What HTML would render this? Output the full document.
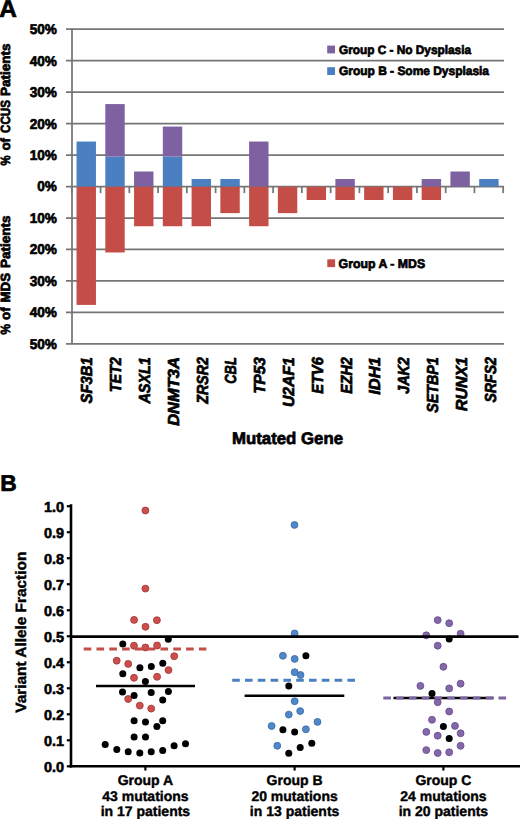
<!DOCTYPE html>
<html><head><meta charset="utf-8"><style>
html,body{margin:0;padding:0;background:#fff;width:520px;height:820px;overflow:hidden}
svg{display:block;text-rendering:geometricPrecision}
.ca{font-family:"Liberation Sans",sans-serif;font-weight:bold;fill:#000}
.sa{stroke:#000;stroke-width:0.7px}
.sb{stroke:#000;stroke-width:0.7px}
.sc{stroke:#000;stroke-width:0.4px}
.sd{stroke:#000;stroke-width:0.6px}
.gi{font-family:"Liberation Sans",sans-serif;font-weight:bold;font-style:italic;fill:#000}
</style></head><body>
<svg width="520" height="820" viewBox="0 0 520 820">
<line x1="66" y1="29.20" x2="504" y2="29.20" stroke="#767676" stroke-width="1.75"/>
<line x1="66" y1="60.67" x2="504" y2="60.67" stroke="#767676" stroke-width="1.75"/>
<line x1="66" y1="92.14" x2="504" y2="92.14" stroke="#767676" stroke-width="1.75"/>
<line x1="66" y1="123.61" x2="504" y2="123.61" stroke="#767676" stroke-width="1.75"/>
<line x1="66" y1="155.08" x2="504" y2="155.08" stroke="#767676" stroke-width="1.75"/>
<line x1="66" y1="186.55" x2="504" y2="186.55" stroke="#767676" stroke-width="1.75"/>
<line x1="66" y1="218.02" x2="504" y2="218.02" stroke="#767676" stroke-width="1.75"/>
<line x1="66" y1="249.49" x2="504" y2="249.49" stroke="#767676" stroke-width="1.75"/>
<line x1="66" y1="280.96" x2="504" y2="280.96" stroke="#767676" stroke-width="1.75"/>
<line x1="66" y1="312.43" x2="504" y2="312.43" stroke="#767676" stroke-width="1.75"/>
<line x1="66" y1="343.90" x2="504" y2="343.90" stroke="#767676" stroke-width="1.75"/>
<line x1="72.0" y1="28.4" x2="72.0" y2="344.6" stroke="#767676" stroke-width="1.75"/>
<line x1="71.80" y1="186.5" x2="71.80" y2="193.10" stroke="#767676" stroke-width="1.75"/>
<line x1="100.56" y1="186.5" x2="100.56" y2="193.10" stroke="#767676" stroke-width="1.75"/>
<line x1="129.32" y1="186.5" x2="129.32" y2="193.10" stroke="#767676" stroke-width="1.75"/>
<line x1="158.08" y1="186.5" x2="158.08" y2="193.10" stroke="#767676" stroke-width="1.75"/>
<line x1="186.84" y1="186.5" x2="186.84" y2="193.10" stroke="#767676" stroke-width="1.75"/>
<line x1="215.60" y1="186.5" x2="215.60" y2="193.10" stroke="#767676" stroke-width="1.75"/>
<line x1="244.36" y1="186.5" x2="244.36" y2="193.10" stroke="#767676" stroke-width="1.75"/>
<line x1="273.12" y1="186.5" x2="273.12" y2="193.10" stroke="#767676" stroke-width="1.75"/>
<line x1="301.88" y1="186.5" x2="301.88" y2="193.10" stroke="#767676" stroke-width="1.75"/>
<line x1="330.64" y1="186.5" x2="330.64" y2="193.10" stroke="#767676" stroke-width="1.75"/>
<line x1="359.40" y1="186.5" x2="359.40" y2="193.10" stroke="#767676" stroke-width="1.75"/>
<line x1="388.16" y1="186.5" x2="388.16" y2="193.10" stroke="#767676" stroke-width="1.75"/>
<line x1="416.92" y1="186.5" x2="416.92" y2="193.10" stroke="#767676" stroke-width="1.75"/>
<line x1="445.68" y1="186.5" x2="445.68" y2="193.10" stroke="#767676" stroke-width="1.75"/>
<line x1="474.44" y1="186.5" x2="474.44" y2="193.10" stroke="#767676" stroke-width="1.75"/>
<line x1="503.20" y1="186.5" x2="503.20" y2="193.10" stroke="#767676" stroke-width="1.75"/>
<rect x="76.55" y="141.54" width="19.4" height="44.96" fill="#4A80C1"/>
<rect x="76.55" y="186.80" width="19.4" height="118.11" fill="#C44D48"/>
<rect x="105.31" y="156.53" width="19.4" height="29.97" fill="#4A80C1"/>
<rect x="105.31" y="104.08" width="19.4" height="52.45" fill="#7D61A1"/>
<rect x="105.31" y="186.80" width="19.4" height="65.66" fill="#C44D48"/>
<rect x="134.07" y="171.51" width="19.4" height="14.99" fill="#7D61A1"/>
<rect x="134.07" y="186.80" width="19.4" height="39.44" fill="#C44D48"/>
<rect x="162.83" y="156.53" width="19.4" height="29.97" fill="#4A80C1"/>
<rect x="162.83" y="126.56" width="19.4" height="29.97" fill="#7D61A1"/>
<rect x="162.83" y="186.80" width="19.4" height="39.44" fill="#C44D48"/>
<rect x="191.59" y="179.01" width="19.4" height="7.49" fill="#4A80C1"/>
<rect x="191.59" y="186.80" width="19.4" height="39.44" fill="#C44D48"/>
<rect x="220.35" y="179.01" width="19.4" height="7.49" fill="#4A80C1"/>
<rect x="220.35" y="186.80" width="19.4" height="26.32" fill="#C44D48"/>
<rect x="249.11" y="141.54" width="19.4" height="44.96" fill="#7D61A1"/>
<rect x="249.11" y="186.80" width="19.4" height="39.44" fill="#C44D48"/>
<rect x="277.87" y="186.80" width="19.4" height="26.32" fill="#C44D48"/>
<rect x="306.63" y="186.80" width="19.4" height="13.21" fill="#C44D48"/>
<rect x="335.39" y="179.01" width="19.4" height="7.49" fill="#7D61A1"/>
<rect x="335.39" y="186.80" width="19.4" height="13.21" fill="#C44D48"/>
<rect x="364.15" y="186.80" width="19.4" height="13.21" fill="#C44D48"/>
<rect x="392.91" y="186.80" width="19.4" height="13.21" fill="#C44D48"/>
<rect x="421.67" y="179.01" width="19.4" height="7.49" fill="#7D61A1"/>
<rect x="421.67" y="186.80" width="19.4" height="13.21" fill="#C44D48"/>
<rect x="450.43" y="171.51" width="19.4" height="14.99" fill="#7D61A1"/>
<rect x="479.19" y="179.01" width="19.4" height="7.49" fill="#4A80C1"/>
<text x="56.9" y="34.10" text-anchor="end" class="ca sa" font-size="14.2" textLength="27.2" lengthAdjust="spacingAndGlyphs">50%</text>
<text x="56.9" y="65.57" text-anchor="end" class="ca sa" font-size="14.2" textLength="27.2" lengthAdjust="spacingAndGlyphs">40%</text>
<text x="56.9" y="97.04" text-anchor="end" class="ca sa" font-size="14.2" textLength="27.2" lengthAdjust="spacingAndGlyphs">30%</text>
<text x="56.9" y="128.51" text-anchor="end" class="ca sa" font-size="14.2" textLength="27.2" lengthAdjust="spacingAndGlyphs">20%</text>
<text x="56.9" y="159.98" text-anchor="end" class="ca sa" font-size="14.2" textLength="27.2" lengthAdjust="spacingAndGlyphs">10%</text>
<text x="56.9" y="191.45" text-anchor="end" class="ca sa" font-size="14.2" textLength="19.6" lengthAdjust="spacingAndGlyphs">0%</text>
<text x="56.9" y="222.92" text-anchor="end" class="ca sa" font-size="14.2" textLength="27.2" lengthAdjust="spacingAndGlyphs">10%</text>
<text x="56.9" y="254.39" text-anchor="end" class="ca sa" font-size="14.2" textLength="27.2" lengthAdjust="spacingAndGlyphs">20%</text>
<text x="56.9" y="285.86" text-anchor="end" class="ca sa" font-size="14.2" textLength="27.2" lengthAdjust="spacingAndGlyphs">30%</text>
<text x="56.9" y="317.33" text-anchor="end" class="ca sa" font-size="14.2" textLength="27.2" lengthAdjust="spacingAndGlyphs">40%</text>
<text x="56.9" y="348.80" text-anchor="end" class="ca sa" font-size="14.2" textLength="27.2" lengthAdjust="spacingAndGlyphs">50%</text>
<rect x="327.2" y="45.6" width="7.8" height="7.8" fill="#7D61A1"/>
<rect x="327.2" y="67.2" width="7.8" height="7.8" fill="#4A80C1"/>
<rect x="327.3" y="259.3" width="7.8" height="7.8" fill="#C44D48"/>
<text x="339" y="53.8" class="ca sa" font-size="12.2" textLength="132" lengthAdjust="spacingAndGlyphs">Group C - No Dysplasia</text>
<text x="339" y="75.3" class="ca sa" font-size="12.2" textLength="150" lengthAdjust="spacingAndGlyphs">Group B - Some Dysplasia</text>
<text x="338.6" y="267.7" class="ca sa" font-size="12.6" textLength="86.5" lengthAdjust="spacingAndGlyphs">Group A - MDS</text>
<text transform="translate(10.4,165.50) rotate(-90)" class="ca sa" font-size="13.4" textLength="10.08" lengthAdjust="spacingAndGlyphs">%</text>
<text transform="translate(10.4,150.50) rotate(-90)" class="ca sa" font-size="13.4" textLength="12.54" lengthAdjust="spacingAndGlyphs">of</text>
<text transform="translate(10.4,133.00) rotate(-90)" class="ca sa" font-size="13.4" textLength="33.04" lengthAdjust="spacingAndGlyphs">CCUS</text>
<text transform="translate(10.4,96.00) rotate(-90)" class="ca sa" font-size="13.4" textLength="52.50" lengthAdjust="spacingAndGlyphs">Patients</text>
<text transform="translate(10.4,334.50) rotate(-90)" class="ca sa" font-size="13.4" textLength="10.57" lengthAdjust="spacingAndGlyphs">%</text>
<text transform="translate(10.4,320.00) rotate(-90)" class="ca sa" font-size="13.4" textLength="12.56" lengthAdjust="spacingAndGlyphs">of</text>
<text transform="translate(10.4,302.50) rotate(-90)" class="ca sa" font-size="13.4" textLength="29.50" lengthAdjust="spacingAndGlyphs">MDS</text>
<text transform="translate(10.4,268.00) rotate(-90)" class="ca sa" font-size="13.4" textLength="52.52" lengthAdjust="spacingAndGlyphs">Patients</text>
<text transform="translate(92.30,357.2) rotate(-90)" text-anchor="end" class="gi sa" font-size="16" textLength="46.2" lengthAdjust="spacingAndGlyphs">SF3B1</text>
<text transform="translate(121.10,357.2) rotate(-90)" text-anchor="end" class="gi sa" font-size="16" textLength="35.0" lengthAdjust="spacingAndGlyphs">TET2</text>
<text transform="translate(149.90,357.2) rotate(-90)" text-anchor="end" class="gi sa" font-size="16" textLength="46.4" lengthAdjust="spacingAndGlyphs">ASXL1</text>
<text transform="translate(178.70,357.2) rotate(-90)" text-anchor="end" class="gi sa" font-size="16" textLength="68.6" lengthAdjust="spacingAndGlyphs">DNMT3A</text>
<text transform="translate(207.50,357.2) rotate(-90)" text-anchor="end" class="gi sa" font-size="16" textLength="46.6" lengthAdjust="spacingAndGlyphs">ZRSR2</text>
<text transform="translate(236.30,357.2) rotate(-90)" text-anchor="end" class="gi sa" font-size="16" textLength="26.5" lengthAdjust="spacingAndGlyphs">CBL</text>
<text transform="translate(265.10,357.2) rotate(-90)" text-anchor="end" class="gi sa" font-size="16" textLength="36.6" lengthAdjust="spacingAndGlyphs">TP53</text>
<text transform="translate(293.90,357.2) rotate(-90)" text-anchor="end" class="gi sa" font-size="16" textLength="49.9" lengthAdjust="spacingAndGlyphs">U2AF1</text>
<text transform="translate(322.70,357.2) rotate(-90)" text-anchor="end" class="gi sa" font-size="16" textLength="36.6" lengthAdjust="spacingAndGlyphs">ETV6</text>
<text transform="translate(351.50,357.2) rotate(-90)" text-anchor="end" class="gi sa" font-size="16" textLength="36.6" lengthAdjust="spacingAndGlyphs">EZH2</text>
<text transform="translate(380.30,357.2) rotate(-90)" text-anchor="end" class="gi sa" font-size="16" textLength="37.6" lengthAdjust="spacingAndGlyphs">IDH1</text>
<text transform="translate(409.10,357.2) rotate(-90)" text-anchor="end" class="gi sa" font-size="16" textLength="36.6" lengthAdjust="spacingAndGlyphs">JAK2</text>
<text transform="translate(437.90,357.2) rotate(-90)" text-anchor="end" class="gi sa" font-size="16" textLength="55.6" lengthAdjust="spacingAndGlyphs">SETBP1</text>
<text transform="translate(466.70,357.2) rotate(-90)" text-anchor="end" class="gi sa" font-size="16" textLength="53.8" lengthAdjust="spacingAndGlyphs">RUNX1</text>
<text transform="translate(495.50,357.2) rotate(-90)" text-anchor="end" class="gi sa" font-size="16" textLength="45.2" lengthAdjust="spacingAndGlyphs">SRFS2</text>
<text x="232" y="444.3" class="ca sa" font-size="16.8" textLength="111" lengthAdjust="spacingAndGlyphs">Mutated Gene</text>
<text x="-0.7" y="17.0" class="ca sb" font-size="24.4">A</text>
<text x="0.3" y="491.4" class="ca sb" font-size="22.8">B</text>
<line x1="66.8" y1="766.30" x2="71" y2="766.30" stroke="#000" stroke-width="2.2"/>
<text x="64.0" y="771.90" text-anchor="end" class="ca sd" font-size="14.4">0.0</text>
<line x1="66.8" y1="740.29" x2="71" y2="740.29" stroke="#000" stroke-width="2.2"/>
<text x="64.0" y="745.89" text-anchor="end" class="ca sd" font-size="14.4">0.1</text>
<line x1="66.8" y1="714.28" x2="71" y2="714.28" stroke="#000" stroke-width="2.2"/>
<text x="64.0" y="719.88" text-anchor="end" class="ca sd" font-size="14.4">0.2</text>
<line x1="66.8" y1="688.27" x2="71" y2="688.27" stroke="#000" stroke-width="2.2"/>
<text x="64.0" y="693.87" text-anchor="end" class="ca sd" font-size="14.4">0.3</text>
<line x1="66.8" y1="662.26" x2="71" y2="662.26" stroke="#000" stroke-width="2.2"/>
<text x="64.0" y="667.86" text-anchor="end" class="ca sd" font-size="14.4">0.4</text>
<line x1="66.8" y1="636.25" x2="71" y2="636.25" stroke="#000" stroke-width="2.2"/>
<text x="64.0" y="641.85" text-anchor="end" class="ca sd" font-size="14.4">0.5</text>
<line x1="66.8" y1="610.24" x2="71" y2="610.24" stroke="#000" stroke-width="2.2"/>
<text x="64.0" y="615.84" text-anchor="end" class="ca sd" font-size="14.4">0.6</text>
<line x1="66.8" y1="584.23" x2="71" y2="584.23" stroke="#000" stroke-width="2.2"/>
<text x="64.0" y="589.83" text-anchor="end" class="ca sd" font-size="14.4">0.7</text>
<line x1="66.8" y1="558.22" x2="71" y2="558.22" stroke="#000" stroke-width="2.2"/>
<text x="64.0" y="563.82" text-anchor="end" class="ca sd" font-size="14.4">0.8</text>
<line x1="66.8" y1="532.21" x2="71" y2="532.21" stroke="#000" stroke-width="2.2"/>
<text x="64.0" y="537.81" text-anchor="end" class="ca sd" font-size="14.4">0.9</text>
<line x1="66.8" y1="506.20" x2="71" y2="506.20" stroke="#000" stroke-width="2.2"/>
<text x="64.0" y="511.80" text-anchor="end" class="ca sd" font-size="14.4">1.0</text>
<line x1="71" y1="504.2" x2="71" y2="767.5" stroke="#000" stroke-width="2.6"/>
<line x1="69.7" y1="766.3" x2="520" y2="766.3" stroke="#000" stroke-width="2.6"/>
<line x1="145.4" y1="766.3" x2="145.4" y2="770.5" stroke="#000" stroke-width="2.2"/>
<line x1="294.6" y1="766.3" x2="294.6" y2="770.5" stroke="#000" stroke-width="2.2"/>
<line x1="443.4" y1="766.3" x2="443.4" y2="770.5" stroke="#000" stroke-width="2.2"/>
<text transform="translate(26.4,712.7) rotate(-90)" class="ca sc" font-size="15" textLength="161" lengthAdjust="spacingAndGlyphs">Variant Allele Fraction</text>
<circle cx="145.4" cy="510.5" r="3.45" fill="#CD4F4C" stroke="#A33A38" stroke-width="0.9"/>
<circle cx="145.4" cy="588.6" r="3.45" fill="#CD4F4C" stroke="#A33A38" stroke-width="0.9"/>
<circle cx="134.1" cy="619.9" r="3.45" fill="#CD4F4C" stroke="#A33A38" stroke-width="0.9"/>
<circle cx="156.9" cy="620.2" r="3.45" fill="#CD4F4C" stroke="#A33A38" stroke-width="0.9"/>
<circle cx="145.5" cy="626.8" r="3.45" fill="#CD4F4C" stroke="#A33A38" stroke-width="0.9"/>
<circle cx="134.0" cy="645.7" r="3.45" fill="#CD4F4C" stroke="#A33A38" stroke-width="0.9"/>
<circle cx="145.4" cy="647.5" r="3.45" fill="#CD4F4C" stroke="#A33A38" stroke-width="0.9"/>
<circle cx="157.1" cy="645.5" r="3.45" fill="#CD4F4C" stroke="#A33A38" stroke-width="0.9"/>
<circle cx="174.2" cy="656.2" r="3.45" fill="#CD4F4C" stroke="#A33A38" stroke-width="0.9"/>
<circle cx="116.7" cy="660.7" r="3.45" fill="#CD4F4C" stroke="#A33A38" stroke-width="0.9"/>
<circle cx="128.2" cy="663.9" r="3.45" fill="#CD4F4C" stroke="#A33A38" stroke-width="0.9"/>
<circle cx="168.5" cy="670.1" r="3.45" fill="#CD4F4C" stroke="#A33A38" stroke-width="0.9"/>
<circle cx="134.0" cy="677.8" r="3.45" fill="#CD4F4C" stroke="#A33A38" stroke-width="0.9"/>
<circle cx="157.1" cy="676.8" r="3.45" fill="#CD4F4C" stroke="#A33A38" stroke-width="0.9"/>
<circle cx="128.2" cy="699.0" r="3.45" fill="#CD4F4C" stroke="#A33A38" stroke-width="0.9"/>
<circle cx="139.8" cy="705.6" r="3.45" fill="#CD4F4C" stroke="#A33A38" stroke-width="0.9"/>
<circle cx="151.2" cy="708.6" r="3.45" fill="#CD4F4C" stroke="#A33A38" stroke-width="0.9"/>
<circle cx="294.5" cy="524.9" r="3.45" fill="#5087C8" stroke="#3F6FA8" stroke-width="0.9"/>
<circle cx="294.65" cy="633.4" r="3.45" fill="#5087C8" stroke="#3F6FA8" stroke-width="0.9"/>
<circle cx="282.9" cy="655.8" r="3.45" fill="#5087C8" stroke="#3F6FA8" stroke-width="0.9"/>
<circle cx="294.65" cy="658.9" r="3.45" fill="#5087C8" stroke="#3F6FA8" stroke-width="0.9"/>
<circle cx="294.65" cy="672.2" r="3.45" fill="#5087C8" stroke="#3F6FA8" stroke-width="0.9"/>
<circle cx="300.5" cy="675.0" r="3.45" fill="#5087C8" stroke="#3F6FA8" stroke-width="0.9"/>
<circle cx="294.65" cy="701.2" r="3.45" fill="#5087C8" stroke="#3F6FA8" stroke-width="0.9"/>
<circle cx="300.2" cy="711.1" r="3.45" fill="#5087C8" stroke="#3F6FA8" stroke-width="0.9"/>
<circle cx="288.8" cy="714.6" r="3.45" fill="#5087C8" stroke="#3F6FA8" stroke-width="0.9"/>
<circle cx="317.5" cy="721.9" r="3.45" fill="#5087C8" stroke="#3F6FA8" stroke-width="0.9"/>
<circle cx="271.6" cy="726.0" r="3.45" fill="#5087C8" stroke="#3F6FA8" stroke-width="0.9"/>
<circle cx="305.9" cy="729.3" r="3.45" fill="#5087C8" stroke="#3F6FA8" stroke-width="0.9"/>
<circle cx="277.3" cy="745.8" r="3.45" fill="#5087C8" stroke="#3F6FA8" stroke-width="0.9"/>
<circle cx="437.7" cy="620.1" r="3.45" fill="#8467A8" stroke="#6A5090" stroke-width="0.9"/>
<circle cx="449.2" cy="623.2" r="3.45" fill="#8467A8" stroke="#6A5090" stroke-width="0.9"/>
<circle cx="426.3" cy="635.3" r="3.45" fill="#8467A8" stroke="#6A5090" stroke-width="0.9"/>
<circle cx="460.6" cy="633.7" r="3.45" fill="#8467A8" stroke="#6A5090" stroke-width="0.9"/>
<circle cx="437.7" cy="645.7" r="3.45" fill="#8467A8" stroke="#6A5090" stroke-width="0.9"/>
<circle cx="443.4" cy="666.8" r="3.45" fill="#8467A8" stroke="#6A5090" stroke-width="0.9"/>
<circle cx="420.4" cy="685.9" r="3.45" fill="#8467A8" stroke="#6A5090" stroke-width="0.9"/>
<circle cx="449.2" cy="688.4" r="3.45" fill="#8467A8" stroke="#6A5090" stroke-width="0.9"/>
<circle cx="460.6" cy="683.7" r="3.45" fill="#8467A8" stroke="#6A5090" stroke-width="0.9"/>
<circle cx="437.7" cy="702.2" r="3.45" fill="#8467A8" stroke="#6A5090" stroke-width="0.9"/>
<circle cx="449.2" cy="711.5" r="3.45" fill="#8467A8" stroke="#6A5090" stroke-width="0.9"/>
<circle cx="432.0" cy="719.8" r="3.45" fill="#8467A8" stroke="#6A5090" stroke-width="0.9"/>
<circle cx="455.0" cy="725.9" r="3.45" fill="#8467A8" stroke="#6A5090" stroke-width="0.9"/>
<circle cx="426.3" cy="731.9" r="3.45" fill="#8467A8" stroke="#6A5090" stroke-width="0.9"/>
<circle cx="437.7" cy="735.7" r="3.45" fill="#8467A8" stroke="#6A5090" stroke-width="0.9"/>
<circle cx="460.6" cy="733.3" r="3.45" fill="#8467A8" stroke="#6A5090" stroke-width="0.9"/>
<circle cx="460.6" cy="745.8" r="3.45" fill="#8467A8" stroke="#6A5090" stroke-width="0.9"/>
<circle cx="426.3" cy="750.1" r="3.45" fill="#8467A8" stroke="#6A5090" stroke-width="0.9"/>
<circle cx="437.7" cy="753.0" r="3.45" fill="#8467A8" stroke="#6A5090" stroke-width="0.9"/>
<circle cx="449.2" cy="752.3" r="3.45" fill="#8467A8" stroke="#6A5090" stroke-width="0.9"/>
<circle cx="168.3" cy="639.2" r="3.5" fill="#000"/>
<circle cx="122.8" cy="643.9" r="3.5" fill="#000"/>
<circle cx="162.8" cy="663.2" r="3.5" fill="#000"/>
<circle cx="139.9" cy="667.7" r="3.5" fill="#000"/>
<circle cx="151.3" cy="666.6" r="3.5" fill="#000"/>
<circle cx="122.8" cy="673.7" r="3.5" fill="#000"/>
<circle cx="145.4" cy="681.4" r="3.5" fill="#000"/>
<circle cx="122.5" cy="692.1" r="3.5" fill="#000"/>
<circle cx="134.1" cy="695.6" r="3.5" fill="#000"/>
<circle cx="151.2" cy="692.6" r="3.5" fill="#000"/>
<circle cx="168.4" cy="691.6" r="3.5" fill="#000"/>
<circle cx="162.7" cy="699.9" r="3.5" fill="#000"/>
<circle cx="134.1" cy="720.7" r="3.5" fill="#000"/>
<circle cx="145.5" cy="721.9" r="3.5" fill="#000"/>
<circle cx="162.7" cy="720.7" r="3.5" fill="#000"/>
<circle cx="156.9" cy="726.4" r="3.5" fill="#000"/>
<circle cx="134.1" cy="737.1" r="3.5" fill="#000"/>
<circle cx="145.5" cy="737.1" r="3.5" fill="#000"/>
<circle cx="105.2" cy="744.4" r="3.5" fill="#000"/>
<circle cx="116.8" cy="749.6" r="3.5" fill="#000"/>
<circle cx="128.2" cy="751.8" r="3.5" fill="#000"/>
<circle cx="139.8" cy="753.0" r="3.5" fill="#000"/>
<circle cx="151.2" cy="751.8" r="3.5" fill="#000"/>
<circle cx="162.7" cy="750.6" r="3.5" fill="#000"/>
<circle cx="174.1" cy="745.8" r="3.5" fill="#000"/>
<circle cx="185.5" cy="743.7" r="3.5" fill="#000"/>
<circle cx="305.9" cy="655.8" r="3.5" fill="#000"/>
<circle cx="288.8" cy="686.0" r="3.5" fill="#000"/>
<circle cx="282.9" cy="729.7" r="3.5" fill="#000"/>
<circle cx="294.65" cy="732.1" r="3.5" fill="#000"/>
<circle cx="300.2" cy="747.5" r="3.5" fill="#000"/>
<circle cx="311.8" cy="743.3" r="3.5" fill="#000"/>
<circle cx="288.8" cy="753.3" r="3.5" fill="#000"/>
<circle cx="449.2" cy="639.1" r="3.5" fill="#000"/>
<circle cx="432.0" cy="693.6" r="3.5" fill="#000"/>
<circle cx="443.4" cy="726.4" r="3.5" fill="#000"/>
<circle cx="449.2" cy="738.5" r="3.5" fill="#000"/>
<line x1="70" y1="636.6" x2="518.5" y2="636.6" stroke="#000" stroke-width="2.8"/>
<line x1="96" y1="686.0" x2="195" y2="686.0" stroke="#000" stroke-width="2.6"/>
<line x1="244.6" y1="695.7" x2="344.3" y2="695.7" stroke="#000" stroke-width="2.6"/>
<line x1="393.5" y1="698.0" x2="493.5" y2="698.0" stroke="#000" stroke-width="2.6"/>
<line x1="83.7" y1="649.0" x2="206.4" y2="649.0" stroke="#C44D48" stroke-width="2.9" stroke-dasharray="7.6 5.2"/>
<line x1="232.2" y1="680.3" x2="355.3" y2="680.3" stroke="#4A80C1" stroke-width="2.9" stroke-dasharray="7.6 5.2"/>
<line x1="383.3" y1="698.0" x2="506.2" y2="698.0" stroke="#7D61A1" stroke-width="2.9" stroke-dasharray="7.6 5.2"/>
<text x="145.4" y="784.5" text-anchor="middle" class="ca sc" font-size="14">Group A</text>
<text x="145.4" y="801.1" text-anchor="middle" class="ca sc" font-size="14">43 mutations</text>
<text x="145.4" y="816.4" text-anchor="middle" class="ca sc" font-size="14">in 17 patients</text>
<text x="294.6" y="784.5" text-anchor="middle" class="ca sc" font-size="14">Group B</text>
<text x="294.6" y="801.1" text-anchor="middle" class="ca sc" font-size="14">20 mutations</text>
<text x="294.6" y="816.4" text-anchor="middle" class="ca sc" font-size="14">in 13 patients</text>
<text x="443.4" y="784.5" text-anchor="middle" class="ca sc" font-size="14">Group C</text>
<text x="443.4" y="801.1" text-anchor="middle" class="ca sc" font-size="14">24 mutations</text>
<text x="443.4" y="816.4" text-anchor="middle" class="ca sc" font-size="14">in 20 patients</text>
</svg>
</body></html>
